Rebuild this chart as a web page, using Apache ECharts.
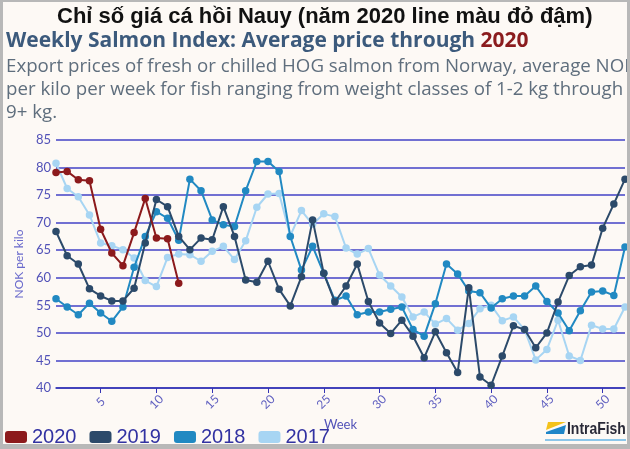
<!DOCTYPE html>
<html>
<head>
<meta charset="utf-8">
<script src="https://cdn.jsdelivr.net/npm/echarts@6/dist/echarts.min.js"></script>
<style>
html,body{margin:0;padding:0;background:#fdf9f5;}
#c{width:630px;height:449px;}
</style>
</head>
<body>
<div id="c"></div>
<script>
var weeks = [];
for (var i = 1; i <= 52; i++) weeks.push(String(i));

var yTicks = [40, 45, 50, 55, 60, 65, 70, 75, 80, 85];

var s2020 = [79.1, 79.3, 77.8, 77.6, 68.8, 64.5, 62.2, 68.2, 74.4, 67.2, 67.1, 59.0];

var s2019 = [68.4, 64.0, 62.5, 58.0, 56.7, 55.8, 55.8, 58.1, 66.3, 74.2, 72.9, 67.5, 65.1,
  67.2, 66.9, 72.9, 67.5, 59.6, 59.2, 63.0, 57.9, 54.9, 60.2, 70.5, 60.8, 55.6, 58.5,
  62.5, 55.7, 51.8, 49.9, 52.3, 49.4, 45.5, 50.2, 46.4, 42.8, 58.2, 42.0, 40.5, 45.8,
  51.3, 50.6, 47.3, 50.0, 55.6, 60.4, 62.0, 62.3, 69.0, 73.4, 77.9];

var s2018 = [56.2, 54.7, 53.3, 55.4, 53.6, 52.1, 54.7, 61.9, 67.5, 72.0, 70.8, 66.8, 77.9,
  75.8, 70.5, 69.6, 69.3, 75.8, 81.1, 81.1, 79.3, 67.5, 61.4, 65.7, 60.8, 55.9, 56.7,
  53.3, 53.8, 53.8, 54.3, 54.7, 50.6, 49.4, 55.3, 62.5, 60.7, 57.6, 57.3, 54.5, 56.2,
  56.7, 56.7, 58.5, 55.7, 53.6, 50.4, 54.0, 57.4, 57.6, 56.8, 65.6];

var s2017 = [80.8, 76.2, 74.7, 71.4, 66.3, 65.8, 65.1, 63.6, 59.5, 58.4, 63.7, 64.3, 64.2,
  63.0, 64.8, 65.7, 63.3, 66.7, 72.8, 75.2, 75.3, 67.6, 72.2, 69.7, 71.6, 71.1, 65.4,
  64.3, 65.3, 60.5, 58.5, 56.5, 52.9, 53.8, 51.6, 52.6, 50.5, 51.7, 54.4, 55.0, 52.2,
  52.9, 50.6, 45.1, 47.0, 52.3, 45.8, 45.0, 51.4, 50.7, 50.7, 54.7];

var seriesNames = ['2020', '2019', '2018', '2017'];
var seriesColors = { '2020': '#8c1a1c', '2019': '#2c4a6a', '2018': '#2189c2', '2017': '#a7d5f3' };

var chart = echarts.init(document.getElementById('c'));

function line(name, data, z) {
  return {
    name: name, type: 'line', data: data, z: z,
    symbol: 'circle', symbolSize: 7.5, showSymbol: true, showAllSymbol: true,
    lineStyle: { width: 2, color: seriesColors[name] },
    itemStyle: { color: seriesColors[name] },
    animation: false
  };
}

var axisBlue = '#5252b8';

chart.setOption({
  backgroundColor: '#fdf9f5',
  animation: false,
  title: [
    {
      text: 'Chỉ số giá cá hồi Nauy (năm 2020 line màu đỏ đậm)',
      left: 52, top: 1,
      textStyle: { fontFamily: 'Liberation Sans, Arial, sans-serif', fontWeight: 'bold', fontSize: 22, color: '#111111' }
    },
    {
      text: 'Weekly Salmon Index: Average price through {r|2020}',
      left: 1, top: 26,
      textStyle: {
        fontFamily: 'Open Sans', fontWeight: 'bold', fontSize: 21, color: '#3c5a7c',
        rich: { r: { fontFamily: 'Open Sans', fontWeight: 'bold', fontSize: 21, color: '#8b1c1e' } }
      }
    },
    {
      text: 'Export prices of fresh or chilled HOG salmon from Norway, average NOK\nper kilo per week for fish ranging from weight classes of 1-2 kg through\n9+ kg.',
      left: 1, top: 50,
      textStyle: { fontFamily: 'Open Sans', fontWeight: 'normal', fontSize: 18.7, lineHeight: 23, color: '#5f6e7d' }
    }
  ],
  legend: {
    data: seriesNames,
    left: 5, top: 427, padding: 0,
    icon: 'roundRect',
    itemWidth: 22, itemHeight: 12, itemGap: 13,
    textStyle: { fontFamily: 'Liberation Sans, Arial, sans-serif', fontSize: 20, color: '#3232a2', lineHeight: 20 }
  },
  grid: { left: 56, right: 5, top: 140, bottom: 61, containLabel: false },
  xAxis: {
    type: 'category', data: weeks, boundaryGap: false,
    name: 'Week', nameLocation: 'middle', nameGap: 27,
    nameTextStyle: { color: axisBlue, fontSize: 13, fontFamily: 'Lato' },
    axisLine: { show: true, lineStyle: { color: '#3434b4', width: 1.5 } },
    axisTick: { show: true, length: 5, lineStyle: { color: '#3434b4' }, interval: function (idx) { return (idx + 1) % 5 === 0; } },
    axisLabel: {
      interval: function (idx) { return (idx + 1) % 5 === 0; },
      rotate: 45, align: 'center', verticalAlign: 'middle', margin: 14,
      color: '#6060c0', fontSize: 12, fontFamily: 'Lato'
    },
    splitLine: { show: false }
  },
  yAxis: {
    type: 'value', min: 40, max: 85, interval: 5,
    name: 'NOK per kilo', nameLocation: 'middle', nameGap: 29,
    nameTextStyle: { color: '#6a6acc', fontSize: 12, fontFamily: 'Lato' },
    axisLine: { show: false }, axisTick: { show: false },
    axisLabel: {
      margin: 5, color: axisBlue, fontSize: 13, fontFamily: 'Lato',
      formatter: function (v) { return yTicks.indexOf(v) >= 0 ? String(v) : ''; }
    },
    splitLine: { show: true, lineStyle: { color: '#4242c6', width: 1.5 } }
  },
  series: [
    line('2017', s2017, 2),
    line('2018', s2018, 3),
    line('2019', s2019, 4),
    line('2020', s2020, 5)
  ],
  graphic: [
    { type: 'polygon', z: 100, shape: { points: [[548, 422], [566, 422], [546, 430]] }, style: { fill: '#f4c21a' } },
    { type: 'polygon', z: 100, shape: { points: [[566, 425], [564, 434], [546, 434], [546, 432]] }, style: { fill: '#1f86c8' } },
    { type: 'text', z: 100, x: 567, y: 421, scaleX: 0.82, style: { text: 'IntraFish', font: 'bold 17px "Liberation Sans", Arial, sans-serif', fill: '#2a2a38', textVerticalAlign: 'top' } },
    { type: 'rect', z: 100, shape: { x: 545, y: 439, width: 81, height: 2 }, style: { fill: '#8cc6ea' } },
    { type: 'rect', z: 200, shape: { x: 0, y: 0, width: 3, height: 449 }, style: { fill: '#b8b8b8' } },
    { type: 'rect', z: 200, shape: { x: 627, y: 0, width: 3, height: 449 }, style: { fill: '#b8b8b8' } },
    { type: 'rect', z: 200, shape: { x: 0, y: 0, width: 630, height: 2 }, style: { fill: '#b8b8b8' } },
    { type: 'rect', z: 200, shape: { x: 0, y: 444, width: 630, height: 5 }, style: { fill: '#b8b8b8' } }
  ]
});
</script>
</body>
</html>
